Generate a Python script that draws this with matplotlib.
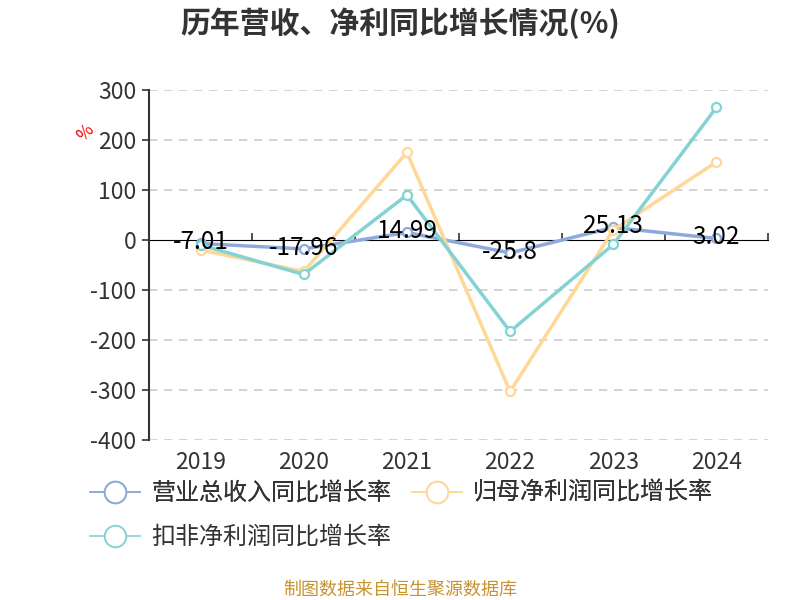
import numpy as np
import matplotlib.pyplot as plt
from matplotlib.lines import Line2D

plt.rcParams['font.family'] = ['Noto Sans CJK SC', 'DejaVu Sans']

years = ['2019', '2020', '2021', '2022', '2023', '2024']
revenue = [-7.01, -17.96, 14.99, -25.8, 25.13, 3.02]
net_profit = [-20, -63, 175, -303, 20, 156]
deducted = [-10, -69, 90, -183, -9, 265]
names = ['营业总收入同比增长率', '归母净利润同比增长率', '扣非净利润同比增长率']
colors = ['#8eaadc', '#ffd898', '#83d3d5']
yticks = [-400, -300, -200, -100, 0, 100, 200, 300]

fig = plt.figure(figsize=(8, 6), dpi=100)
ax = fig.add_axes([0.18625, 0.2667, 0.77375, 0.5833])
x = np.arange(len(years))

for vals, c, n in zip([revenue, net_profit, deducted], colors, names):
    ax.plot(x, vals, color=c, lw=2.5, marker='o', ms=6.5,
            mfc='white', mec=c, mew=1.6, label=n, zorder=3)

# value labels for revenue
for i, v in enumerate(revenue):
    ax.annotate(f'{v:g}', (i, v), xytext=(0, 1), textcoords='offset points',
                ha='center', va='center', fontsize=17.5, color='black', zorder=5)

ax.set_xlim(-0.5, len(years) - 0.5)
ax.set_ylim(yticks[0], yticks[-1])
ax.set_yticks(yticks)
ax.set_yticklabels([str(t) for t in yticks], fontsize=16.5, color='#333333')
ax.set_xticks(x)
ax.set_xticklabels(years, fontsize=16.5, color='#333333')
ax.tick_params(axis='x', length=0, pad=8)
ax.tick_params(axis='y', length=5, width=1.2, color='#333333', direction='out', pad=4)

for t in yticks:
    if t != 0:
        ax.axhline(t, color='#cccccc', lw=1.2, ls=(0, (5, 4)), zorder=1)

for s in ['top', 'right', 'bottom']:
    ax.spines[s].set_visible(False)
ax.spines['left'].set_color('#333333')
ax.spines['left'].set_linewidth(1.5)

# category axis drawn at zero
loc = (0 - yticks[0]) / (yticks[-1] - yticks[0])
sec = ax.secondary_xaxis(loc)
sec.set_xticks(np.arange(len(years) + 1) - 0.5)
sec.set_xticklabels([])
sec.tick_params(length=5, width=1.2, color='#333333', direction='out')
sec.spines['bottom'].set_color('#333333')
sec.spines['bottom'].set_linewidth(1.5)

ax.text(-0.102, 0.877, '%', transform=ax.transAxes, color='red', fontsize=12.5,
        rotation=45, ha='center', va='center')

fig.text(0.5, 0.962, '历年营收、净利同比增长情况(%)', ha='center', va='center',
         fontsize=21.5, fontweight='bold', color='#333333')

handles = [Line2D([], [], color=c, lw=1.2, marker='o', ms=15.5, mfc='white',
                  mec=c, mew=1.4) for c in colors]
leg_kw = dict(frameon=False, fontsize=17.3, handlelength=2.08, handletextpad=0.46,
              columnspacing=0.87, labelcolor='#333333', borderpad=0, borderaxespad=0)
leg1 = fig.legend(handles=handles[:2], labels=names[:2], loc='center left',
                  bbox_to_anchor=(90 / 800, 1 - 493 / 600), ncol=2, **leg_kw)
fig.legend(handles=handles[2:], labels=names[2:], loc='center left',
           bbox_to_anchor=(90 / 800, 1 - 537 / 600), **leg_kw)
fig.add_artist(leg1)

fig.text(0.5, 0.018, '制图数据来自恒生聚源数据库', ha='center', va='center',
         fontsize=13, color='#c8922f')

fig.savefig('out.png', dpi=100)
